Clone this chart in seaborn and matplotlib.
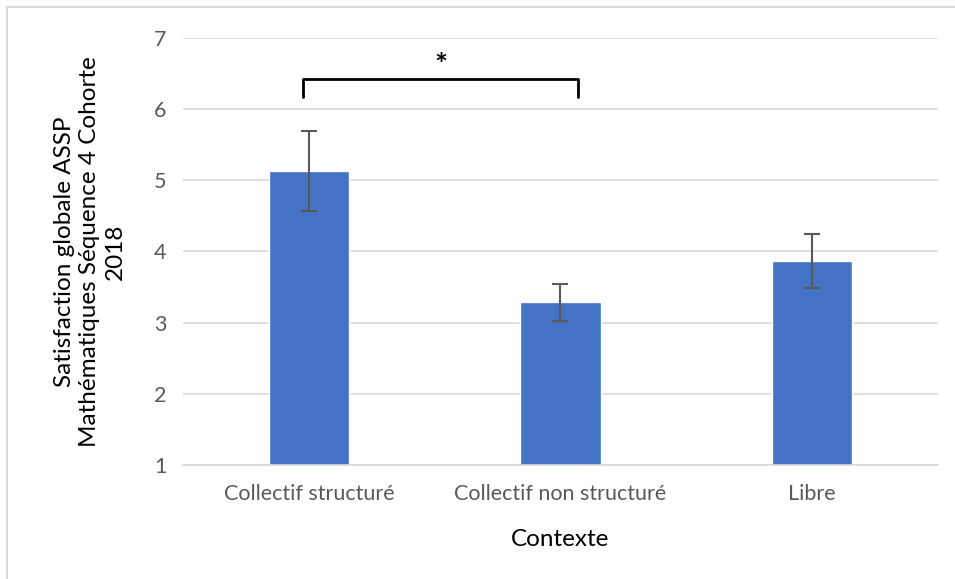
import pandas as pd
import matplotlib.pyplot as plt
import seaborn as sns
from matplotlib.patches import Rectangle

# Données
categories = ["Collectif structuré", "Collectif non structuré", "Libre"]
means = [5.13, 3.29, 3.87]
errors = [0.56, 0.26, 0.38]

df = pd.DataFrame({"Contexte": categories, "Satisfaction": means})

sns.set_style("white")
plt.rcParams['font.family'] = ['Lato', 'DejaVu Sans']

fig = plt.figure(figsize=(9.55, 5.79), dpi=100)
ax = fig.add_axes([0.1916, 0.1969, 0.7906, 0.7375])

sns.barplot(data=df, x="Contexte", y="Satisfaction", color="#4472C4",
            width=0.318, saturation=1, ax=ax, zorder=2)
ax.errorbar(range(len(categories)), means, yerr=errors, fmt="none",
            ecolor="#595959", elinewidth=1.5, capsize=6, capthick=1.5, zorder=3)

ax.set_ylim(1, 7)
ax.set_xlim(-0.5, 2.5)
ax.set_yticks(range(1, 8))
ax.grid(axis="y", color="#d9d9d9", linewidth=1.2, zorder=0)
ax.set_axisbelow(True)
for s in ["top", "right", "left"]:
    ax.spines[s].set_visible(False)
ax.spines["bottom"].set_color("#d9d9d9")
ax.spines["bottom"].set_linewidth(1.2)
ax.tick_params(axis="both", length=0, labelsize=15.5, colors="#595959")
ax.tick_params(axis="x", pad=14)
ax.tick_params(axis="y", pad=12)

ax.set_xlabel("Contexte", fontsize=17.5, color="black", labelpad=18)
ax.set_ylabel("Satisfaction globale ASSP\nMathématiques Séquence 4 Cohorte\n2018",
              fontsize=17.5, color="black", labelpad=20, linespacing=1.28)

# Crochet de significativité
bx0, bx1 = 0 - 0.0225, 1.07
ax.plot([bx0, bx0, bx1, bx1], [6.17, 6.43, 6.43, 6.17], color="black",
        linewidth=2, clip_on=False, zorder=4)
ax.text((bx0 + bx1) / 2, 6.6, "*", ha="center", va="center", fontsize=22,
        fontweight="bold", color="black")

# Cadre du graphique
fig.patches.append(Rectangle((7 / 955, -0.1), 1.1, 1 - 7 / 579 + 0.1,
                             transform=fig.transFigure, fill=False,
                             edgecolor="#d9d9d9", linewidth=1.5))

fig.savefig("out.png", dpi=100)
